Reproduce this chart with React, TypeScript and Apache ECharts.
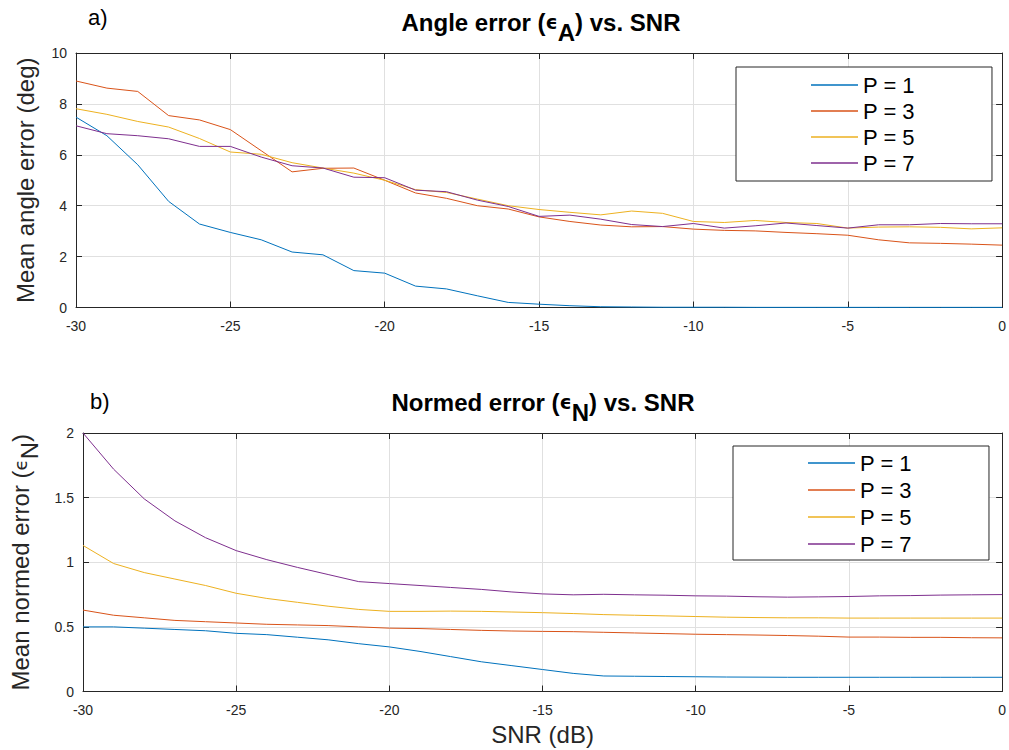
import React, { useEffect, useRef } from "react";
import * as echarts from "echarts";

const snr = [-30,-29,-28,-27,-26,-25,-24,-23,-22,-21,-20,-19,-18,-17,-16,-15,-14,-13,-12,-11,-10,-9,-8,-7,-6,-5,-4,-3,-2,-1,0];

const angleP1 = [7.48,6.75,5.61,4.17,3.28,2.95,2.66,2.18,2.07,1.45,1.35,0.84,0.73,0.46,0.2,0.13,0.07,0.03,0.02,0.01,0.01,0.01,0.005,0.005,0.005,0.005,0.005,0.005,0.005,0.005,0.005];
const angleP3 = [8.9,8.62,8.49,7.54,7.37,6.99,6.16,5.33,5.47,5.48,5.0,4.5,4.29,4.0,3.87,3.56,3.38,3.24,3.17,3.18,3.08,3.03,3.01,2.95,2.9,2.84,2.66,2.54,2.52,2.49,2.45];
const angleP5 = [7.81,7.59,7.31,7.09,6.64,6.11,6.02,5.69,5.48,5.28,5.0,4.63,4.52,4.26,4.0,3.85,3.74,3.64,3.79,3.7,3.38,3.34,3.42,3.34,3.3,3.12,3.16,3.17,3.15,3.09,3.13];
const angleP7 = [7.14,6.83,6.75,6.63,6.33,6.33,5.91,5.57,5.48,5.12,5.1,4.61,4.55,4.22,3.97,3.58,3.63,3.47,3.26,3.18,3.3,3.12,3.21,3.32,3.22,3.12,3.25,3.25,3.3,3.29,3.29];

const normP1 = [0.5,0.5,0.49,0.48,0.47,0.45,0.44,0.42,0.4,0.37,0.345,0.31,0.27,0.23,0.2,0.17,0.14,0.12,0.118,0.116,0.114,0.112,0.111,0.11,0.11,0.11,0.11,0.11,0.11,0.11,0.11];
const normP3 = [0.63,0.59,0.57,0.55,0.54,0.53,0.52,0.515,0.51,0.5,0.49,0.487,0.48,0.473,0.468,0.465,0.463,0.458,0.453,0.448,0.443,0.44,0.437,0.433,0.428,0.421,0.421,0.419,0.419,0.416,0.415];
const normP5 = [1.13,0.99,0.92,0.87,0.82,0.76,0.72,0.69,0.66,0.635,0.62,0.62,0.622,0.62,0.615,0.61,0.603,0.595,0.59,0.585,0.58,0.575,0.572,0.57,0.57,0.568,0.568,0.568,0.568,0.568,0.568];
const normP7 = [2.0,1.72,1.49,1.32,1.19,1.09,1.02,0.96,0.905,0.85,0.835,0.82,0.805,0.79,0.77,0.755,0.748,0.752,0.748,0.745,0.74,0.738,0.733,0.73,0.732,0.735,0.74,0.742,0.746,0.748,0.75];

const names = ["P = 1", "P = 3", "P = 5", "P = 7"];
const colors = ["#0072BD", "#D95319", "#EDB120", "#7E2F8E"];
const xTicks = { min: -30, max: 0, interval: 5 };
const angleTicks = { min: 0, max: 10, interval: 2 };
const normTicks = { min: 0, max: 2, interval: 0.5 };

const FONT = "'Liberation Sans', Arial, Helvetica, sans-serif";
const AX = "#262626";
const GRID = "#e0e0e0";

export default function App() {
  const ref = useRef<HTMLDivElement>(null);
  useEffect(() => {
    if (!ref.current) return;
    const chart = echarts.init(ref.current, null, { renderer: "svg" });
    const zip = (ys: number[]) => snr.map((x, i) => [x, ys[i]]);
    const mkSeries = (sets: number[][], xi: number, yi: number) =>
      sets.map((ys, k) => ({
        type: "line",
        name: names[k],
        xAxisIndex: xi,
        yAxisIndex: yi,
        data: zip(ys),
        symbol: "none",
        showSymbol: false,
        lineStyle: { width: 1, color: colors[k] },
        itemStyle: { color: colors[k] },
        z: 3 + k,
      }));
    const tickLabel = { color: AX, fontSize: 14, fontFamily: FONT };
    const mainX = (grid: number, name?: string) => ({
      type: "value",
      gridIndex: grid,
      position: "bottom",
      ...xTicks,
      axisLine: { show: true, onZero: false, lineStyle: { color: AX, width: 1 } },
      axisTick: { show: true, inside: true, length: 6, lineStyle: { color: AX } },
      axisLabel: { ...tickLabel, margin: 11 },
      splitLine: { show: true, lineStyle: { color: GRID, width: 1 } },
      name: name,
      nameLocation: "middle",
      nameGap: 31,
      nameTextStyle: { color: AX, fontSize: 24, fontFamily: FONT },
    });
    const topX = (grid: number) => ({
      type: "value",
      gridIndex: grid,
      position: "top",
      ...xTicks,
      axisLine: { show: true, onZero: false, lineStyle: { color: AX, width: 1 } },
      axisTick: { show: true, inside: true, length: 6, lineStyle: { color: AX } },
      axisLabel: { show: false },
      splitLine: { show: false },
    });
    const mainY = (grid: number, ticks: any, name: string, gap: number) => ({
      type: "value",
      gridIndex: grid,
      position: "left",
      ...ticks,
      axisLine: { show: true, onZero: false, lineStyle: { color: AX, width: 1 } },
      axisTick: { show: true, inside: true, length: 6, lineStyle: { color: AX } },
      axisLabel: { ...tickLabel, margin: 9 },
      splitLine: { show: true, lineStyle: { color: GRID, width: 1 } },
      name,
      nameLocation: "middle",
      nameGap: gap,
      nameTextStyle: {
        color: AX, fontSize: 24, fontFamily: FONT,
        rich: {
          t: { fontSize: 24, fontFamily: FONT, color: AX },
          e: { fontSize: 18, fontFamily: "'DejaVu Sans', sans-serif", color: AX },
          s: { fontSize: 24, fontFamily: FONT, color: AX, verticalAlign: "bottom", lineHeight: 42 },
        },
      },
    });
    const rightY = (grid: number, ticks: any) => ({
      type: "value",
      gridIndex: grid,
      position: "right",
      ...ticks,
      axisLine: { show: true, onZero: false, lineStyle: { color: AX, width: 1 } },
      axisTick: { show: true, inside: true, length: 6, lineStyle: { color: AX } },
      axisLabel: { show: false },
      splitLine: { show: false },
    });
    const legend = (left: number, top: number, gap: number, pad: number[]) => ({
      data: names,
      orient: "vertical",
      left,
      top,
      icon: "rect",
      padding: pad,
      itemWidth: 47,
      itemHeight: 1.6,
      itemGap: gap,
      borderColor: AX,
      borderWidth: 1,
      borderRadius: 0,
      backgroundColor: "#ffffff",
      textStyle: { color: "#000", fontSize: 22, fontFamily: FONT, lineHeight: 22 },
    });
    const titleRich = {
      t: { fontSize: 24, fontWeight: "bold", fontFamily: FONT, color: "#000" },
      e: { fontSize: 19, fontFamily: "'DejaVu Sans', sans-serif", color: "#000" },
      s: { fontSize: 24, fontWeight: "bold", fontFamily: FONT, color: "#000", verticalAlign: "bottom", lineHeight: 44 },
    };
    chart.setOption({
      animation: false,
      backgroundColor: "#ffffff",
      title: [
        {
          text: "{t|Angle error (}{e|ϵ}{s|A}{t|) vs. SNR}",
          left: 541,
          top: 0,
          padding: 0,
          textAlign: "center",
          textStyle: { rich: titleRich },
        },
        {
          text: "{t|Normed error (}{e|ϵ}{s|N}{t|) vs. SNR}",
          left: 543,
          top: 380,
          padding: 0,
          textAlign: "center",
          textStyle: { rich: titleRich },
        },
      ],
      graphic: [
        { type: "text", left: 88, top: 6, style: { text: "a)", fontSize: 22, fontFamily: FONT, fill: "#000" } },
        { type: "text", left: 90, top: 390, style: { text: "b)", fontSize: 22, fontFamily: FONT, fill: "#000" } },
      ],
      legend: [legend(736, 67, 4, [7, 77, 7, 75]), legend(733, 446, 5, [6, 77, 5, 75])],
      grid: [
        { left: 76, top: 53, width: 931, height: 254.5, show: false, containLabel: false },
        { left: 79, top: 433, width: 928, height: 258.5, show: false, containLabel: false },
      ],
      xAxis: [mainX(0), topX(0), mainX(1, "SNR (dB)"), topX(1)],
      yAxis: [
        mainY(0, angleTicks, "{t|Mean angle error (deg)}", 39),
        rightY(0, angleTicks),
        mainY(1, normTicks, "{t|Mean normed error (}{e|ϵ}{s|N}{t|)}", 42),
        rightY(1, normTicks),
      ],
      series: [
        ...mkSeries([angleP1, angleP3, angleP5, angleP7], 0, 0),
        ...mkSeries([normP1, normP3, normP5, normP7], 2, 2),
      ],
    });
    return () => chart.dispose();
  }, []);
  return (
    <div
      ref={ref}
      style={{ position: "fixed", left: 0, top: 0, width: 1009, height: 750, background: "#fff" }}
    />
  );
}
